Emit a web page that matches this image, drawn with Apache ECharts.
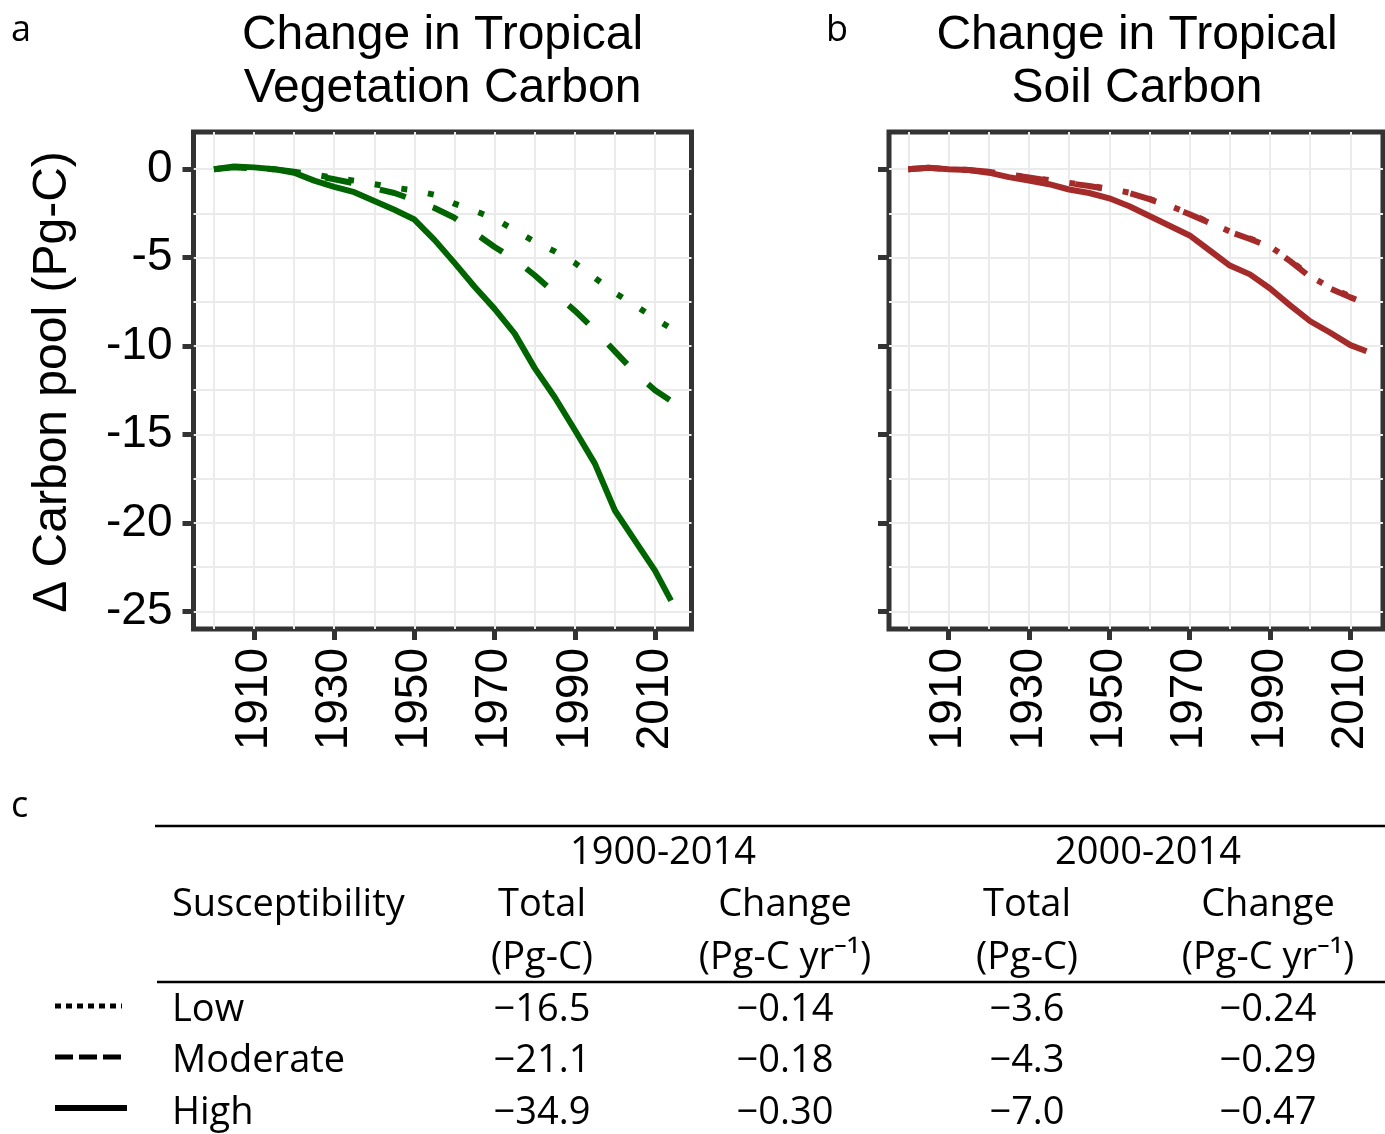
<!DOCTYPE html>
<html><head><meta charset="utf-8">
<script src="https://cdn.jsdelivr.net/npm/echarts@6/dist/echarts.min.js"></script>
<style>html,body{margin:0;padding:0;background:#fff}#c{width:1385px;height:1134px}</style>
</head><body><div id="c"></div>
<script>
// ---------- data ----------
const years = [1900,1905,1910,1915,1920,1925,1930,1935,1940,1945,1950,1955,1960,1965,1970,1975,1980,1985,1990,1995,2000,2005,2010,2014];
const vegLow      = [0,0.1,0.05,0,-0.15,-0.3,-0.5,-0.65,-0.85,-1.05,-1.2,-1.45,-1.95,-2.35,-2.8,-3.45,-4.1,-4.65,-5.3,-6.15,-7.0,-7.7,-8.45,-9.0];
const vegModerate = [0,0.1,0.05,0,-0.15,-0.35,-0.57,-0.8,-1.08,-1.35,-1.75,-2.2,-2.75,-3.6,-4.4,-5.1,-6.0,-7.0,-8.0,-9.1,-10.3,-11.5,-12.5,-13.1];
const vegHigh     = [0,0.15,0.1,0,-0.2,-0.65,-1.0,-1.3,-1.8,-2.3,-2.85,-4.0,-5.3,-6.65,-7.9,-9.3,-11.25,-12.9,-14.75,-16.65,-19.3,-21.0,-22.7,-24.4];
const soilLow      = [0,0.08,0,-0.05,-0.15,-0.3,-0.45,-0.62,-0.78,-0.93,-1.12,-1.33,-1.68,-2.07,-2.52,-3.02,-3.52,-3.92,-4.37,-5.15,-6.05,-6.7,-7.2,-7.5];
const soilModerate = [0,0.08,0,-0.05,-0.15,-0.3,-0.47,-0.65,-0.8,-0.95,-1.15,-1.35,-1.7,-2.1,-2.55,-3.05,-3.55,-3.95,-4.4,-5.2,-6.1,-6.75,-7.25,-7.6];
const soilHigh     = [0,0.08,0,-0.05,-0.2,-0.45,-0.65,-0.85,-1.15,-1.35,-1.65,-2.1,-2.65,-3.2,-3.75,-4.6,-5.45,-5.95,-6.75,-7.7,-8.6,-9.25,-9.95,-10.3];

const xLabelTicks = [1910,1930,1950,1970,1990,2010];
const xGridTicks  = [1900,1910,1920,1930,1940,1950,1960,1970,1980,1990,2000,2010];
const yLabelTicks = [0,-5,-10,-15,-20,-25];
const yGridTicks  = [0,-2.5,-5,-7.5,-10,-12.5,-15,-17.5,-20,-22.5,-25];

const panelLetters = ['a','b','c'];
const panelTitles = ['Change in Tropical\nVegetation Carbon','Change in Tropical\nSoil Carbon'];
const yAxisTitle = 'Δ Carbon pool (Pg-C)';

const tableGroups   = ['1900-2014','2000-2014'];
const tableRowHead  = 'Susceptibility';
const tableColHeads = ['Total','Change','Total','Change'];
const tableColUnits = ['(Pg-C)','(Pg-C yr\u207B\u00B9)','(Pg-C)','(Pg-C yr\u207B\u00B9)'];
const susceptibility = ['Low','Moderate','High'];
const total1900  = ['\u221216.5','\u221221.1','\u221234.9'];
const change1900 = ['\u22120.14','\u22120.18','\u22120.30'];
const total2000  = ['\u22123.6','\u22124.3','\u22127.0'];
const change2000 = ['\u22120.24','\u22120.29','\u22120.47'];

// ---------- styles ----------
const GREEN = '#006400', BROWN = '#A52A2A', DARK = '#333333', GRIDC = '#EBEBEB';
const AX_FONT = 'Liberation Sans';
const TB_FONT = 'Open Sans';
const TB_SIZE = 38;
const LW = 6;
const dashes = { Low: [6, 21], Moderate: [27, 29], High: 'solid' };

const pairs = (ys) => years.map((y, i) => [y, ys[i]]);
const plain = (v) => String(v);

const grids = [
  { left: 193.5, top: 132, width: 498, height: 497 },
  { left: 889, top: 132, width: 494, height: 497 }
];
const xRanges = [[1894.9, 2019.1], [1895.2, 2018.1]];
const yRange = [-26.0, 2.1];

const xAxes = [], yAxes = [];
grids.forEach((g, gi) => {
  xAxes.push({
    type: 'value', gridIndex: gi, position: 'bottom', min: xRanges[gi][0], max: xRanges[gi][1],
    axisLine: { show: false, onZero: false },
    axisTick: { show: true, customValues: xLabelTicks, length: 11, lineStyle: { color: DARK, width: 5 } },
    axisLabel: { show: true, customValues: xLabelTicks, formatter: plain, rotate: 90, margin: 19, fontSize: 46, fontFamily: AX_FONT, color: '#000' },
    splitLine: { show: false }
  });
  xAxes.push({
    type: 'value', gridIndex: gi, position: 'bottom', min: xRanges[gi][0], max: xRanges[gi][1],
    axisLine: { show: false, onZero: false },
    axisTick: { show: false, customValues: xGridTicks },
    axisLabel: { show: false },
    splitLine: { show: true, lineStyle: { color: GRIDC, width: 2 } }
  });
  yAxes.push({
    type: 'value', gridIndex: gi, position: 'left', min: yRange[0], max: yRange[1],
    axisLine: { show: false, onZero: false },
    axisTick: { show: true, customValues: yLabelTicks, length: 11, lineStyle: { color: DARK, width: 5 } },
    axisLabel: { show: gi === 0, customValues: yLabelTicks, formatter: plain, margin: 21, fontSize: 46, fontFamily: AX_FONT, color: '#000' },
    splitLine: { show: false }
  });
  yAxes.push({
    type: 'value', gridIndex: gi, position: 'left', min: yRange[0], max: yRange[1],
    axisLine: { show: false, onZero: false },
    axisTick: { show: false, customValues: yGridTicks },
    axisLabel: { show: false },
    splitLine: { show: true, lineStyle: { color: GRIDC, width: 2 } }
  });
});

function line(name, data, gi, color) {
  return {
    type: 'line', name: name, data: pairs(data), xAxisIndex: gi * 2, yAxisIndex: gi * 2,
    showSymbol: false, symbol: 'none', smooth: false, z: 3,
    lineStyle: { color: color, width: LW, type: dashes[name], cap: 'butt', join: 'round' },
    emphasis: { disabled: true }
  };
}

const series = [
  line('Low', vegLow, 0, GREEN), line('Moderate', vegModerate, 0, GREEN), line('High', vegHigh, 0, GREEN),
  line('Low', soilLow, 1, BROWN), line('Moderate', soilModerate, 1, BROWN), line('High', soilHigh, 1, BROWN)
];

// ---------- graphics: titles, labels, table ----------
const graphic = [];
const tbFont = (s) => (s || TB_SIZE) + 'px "' + TB_FONT + '", "Noto Sans", "DejaVu Sans"';
function txt(x, y, text, opt) {
  graphic.push({
    type: 'text', x: x, y: y, silent: true,
    style: Object.assign({ text: text, fill: '#000', font: tbFont(), align: 'center', verticalAlign: 'middle' }, opt || {})
  });
}
// panel letters
txt(11, 31, panelLetters[0], { font: tbFont(36), align: 'left' });
txt(826, 31, panelLetters[1], { font: tbFont(36), align: 'left' });
txt(11, 807, panelLetters[2], { font: tbFont(36), align: 'left' });
// panel titles
graphic.push({ type: 'text', x: 442.5, y: 9, silent: true,
  style: { text: panelTitles[0], fill: '#000', font: '48px "' + AX_FONT + '"', lineHeight: 53, align: 'center', verticalAlign: 'top' } });
graphic.push({ type: 'text', x: 1137, y: 9, silent: true,
  style: { text: panelTitles[1], fill: '#000', font: '48px "' + AX_FONT + '"', lineHeight: 53, align: 'center', verticalAlign: 'top' } });
// y axis title
graphic.push({ type: 'text', x: 53, y: 382, rotation: Math.PI / 2, silent: true,
  style: { text: yAxisTitle, fill: '#000', font: '48px "' + AX_FONT + '"', align: 'center', verticalAlign: 'middle' } });

// table rules
graphic.push({ type: 'line', silent: true, shape: { x1: 155, y1: 826, x2: 1385, y2: 826 }, style: { stroke: '#000', lineWidth: 2.5 } });
graphic.push({ type: 'line', silent: true, shape: { x1: 157, y1: 982, x2: 1385, y2: 982 }, style: { stroke: '#000', lineWidth: 2.5 } });

const colX = [542, 785, 1027, 1268];
const groupX = [663, 1148];
const rowY = [1010, 1061, 1113];
tableGroups.forEach((g, i) => txt(groupX[i], 853, g));
txt(172, 905, tableRowHead, { align: 'left' });
tableColHeads.forEach((h, i) => txt(colX[i], 905, h));
tableColUnits.forEach((u, i) => txt(colX[i], 958, u));
const cols = [total1900, change1900, total2000, change2000];
susceptibility.forEach((s, r) => {
  txt(172, rowY[r], s, { align: 'left' });
  cols.forEach((c, ci) => txt(colX[ci], rowY[r], c[r]));
});
// legend samples
const legendDash = { Low: [6, 5], Moderate: [18, 6], High: null };
const legendY = [1006, 1057, 1108];
susceptibility.forEach((s, r) => {
  graphic.push({ type: 'line', silent: true,
    shape: { x1: 55, y1: legendY[r], x2: s === 'High' ? 127 : 122, y2: legendY[r] },
    style: { stroke: '#000', lineWidth: s === 'High' ? 6 : 5, lineDash: legendDash[s] } });
});

const chart = echarts.init(document.getElementById('c'), null, { renderer: 'canvas' });
chart.setOption({
  animation: false,
  backgroundColor: '#ffffff',
  grid: grids.map(g => Object.assign({ show: true, borderColor: DARK, borderWidth: 5, backgroundColor: 'transparent', containLabel: false }, g)),
  xAxis: xAxes,
  yAxis: yAxes,
  series: series,
  graphic: graphic
});
</script>
</body></html>
